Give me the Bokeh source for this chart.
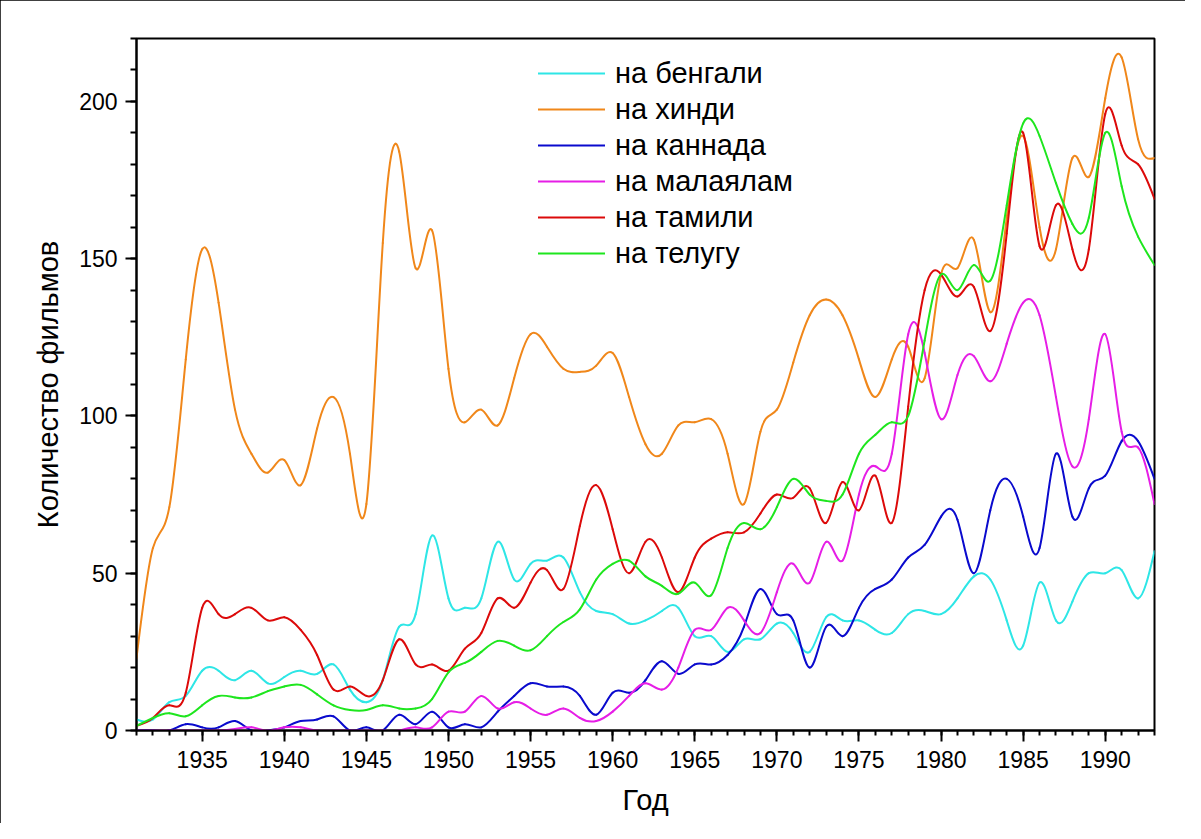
import numpy as np
from bokeh.plotting import figure
from bokeh.models import Range1d, SingleIntervalTicker, Legend, LegendItem, ColumnDataSource
from bokeh.embed import file_html
from bokeh.resources import INLINE

years = list(range(1931, 1994))

bengali = [3.5, 3.5, 9, 11, 19, 19, 16, 19, 15, 17,
           19, 18, 21, 13, 9, 16, 33, 37, 62, 42,
           39, 42, 60, 48, 53, 54, 55, 44, 38, 37,
           34, 35, 38, 39, 30, 30, 25, 29, 29, 34,
           31, 25, 36, 35, 35, 32, 31, 37, 38, 37,
           42, 49, 48, 35, 27, 47, 35, 41, 50, 50,
           51, 42, 57]
hindi = [23, 58, 71, 118, 153, 136, 102, 88, 82, 86,
         78, 96, 106, 88, 72, 155, 184, 147, 159, 115,
         98, 102, 97, 112, 126, 122, 115, 114, 116, 120,
         106, 91, 88, 97, 98, 99, 88, 72, 95, 102,
         117, 132, 137, 132, 118, 106, 118, 122, 112, 145,
         147, 156, 133, 163, 189, 160, 153, 182, 176, 201,
         214, 188, 182]
kannada = [0, 0, 0, 2, 1, 1, 3, 0, 0, 1,
           3, 3.5, 4.5, 0, 1, 0, 5, 2, 6, 1,
           2, 1, 6, 11, 15, 14, 14, 11, 5, 12,
           12, 16, 22, 18, 21, 21, 24, 33, 45, 37,
           35, 20, 33, 30, 39, 45, 48, 55, 59, 68,
           67, 50, 70, 80, 68, 58, 88, 68, 77, 81,
           92, 92, 80]
malayalam = [0, 0, 0, 0, 0, 0, 0.5, 1, 0, 1,
             1, 0, 0, 0, 0, 0, 0, 1, 1, 6,
             6, 11, 7, 9, 7, 5, 7, 4, 3, 6,
             11, 15, 13, 20, 32, 32, 39, 35, 31, 44,
             53, 47, 60, 54, 75, 84, 88, 126, 120, 99,
             113, 119, 111, 123, 136, 132, 106, 84, 99, 126,
             95, 90, 72]
tamil = [1.5, 4, 8, 12, 39, 37, 37, 39, 35, 36,
         32, 24, 13, 14, 11, 16, 29, 21, 21, 19,
         26, 31, 42, 39, 47, 51, 45, 65, 78, 64,
         50, 60, 55, 44, 55, 61, 63, 63, 69, 75,
         74, 77, 66, 79, 70, 81, 66, 103, 140, 145,
         138, 141, 127, 158, 190, 154, 167, 153, 153, 196,
         186, 180, 169]
telugu = [1.5, 4, 5.5, 4.5, 8, 11, 10.5, 10.5, 12.5, 14,
          14.5, 11.5, 8, 6.5, 6.5, 8, 7, 7, 10, 18.5,
          21.5, 25, 28.5, 27, 25.5, 30, 34.5, 38.5, 48, 53,
          54, 49, 46, 43.5, 47, 43, 58, 66, 64, 71,
          80, 75, 73, 75, 88, 94, 98, 100, 124, 145,
          140, 148, 143, 167, 193, 189, 174, 161, 163, 190,
          173, 157, 148]

series_names = ["на бенгали", "на хинди", "на каннада", "на малаялам", "на тамили", "на телугу"]
series_values = [bengali, hindi, kannada, malayalam, tamil, telugu]
colors = ["#2EE6E6", "#F0871A", "#0A0ACD", "#E61EE6", "#DC0A0A", "#1EE61E"]
x_label = "Год"
y_label = "Количество фильмов"
FONT = "Liberation Sans"


def spline_segments(x, y):
    """Natural cubic spline through the data, expressed as cubic Bezier segments."""
    x = np.asarray(x, float)
    y = np.asarray(y, float)
    n = len(x)
    h = np.diff(x)
    A = np.zeros((n, n))
    r = np.zeros(n)
    A[0, 0] = 1.0
    A[-1, -1] = 1.0
    for i in range(1, n - 1):
        A[i, i - 1] = h[i - 1]
        A[i, i] = 2 * (h[i - 1] + h[i])
        A[i, i + 1] = h[i]
        r[i] = 6 * ((y[i + 1] - y[i]) / h[i] - (y[i] - y[i - 1]) / h[i - 1])
    M = np.linalg.solve(A, r)
    d = (y[1:] - y[:-1]) / h
    s = d - h * (2 * M[:-1] + M[1:]) / 6
    e = d + h * (M[:-1] + 2 * M[1:]) / 6
    return dict(x0=x[:-1], y0=y[:-1], x1=x[1:], y1=y[1:],
                cx0=x[:-1] + h / 3, cy0=y[:-1] + s * h / 3,
                cx1=x[1:] - h / 3, cy1=y[1:] - e * h / 3)


p = figure(width=1185, height=823,
           x_range=Range1d(1931, 1993), y_range=Range1d(0, 220),
           output_backend="svg", toolbar_location=None,
           min_border_left=136, min_border_right=31,
           min_border_top=38, min_border_bottom=93)
p.styles = {"outline": "2px solid black", "outline-offset": "-2px"}

p.xgrid.visible = False
p.ygrid.visible = False
p.outline_line_color = "black"
p.outline_line_width = 2
p.background_fill_color = "white"
p.border_fill_color = "white"

p.xaxis.ticker = SingleIntervalTicker(interval=5, num_minor_ticks=5)
p.yaxis.ticker = SingleIntervalTicker(interval=50, num_minor_ticks=5)

for ax in (p.xaxis[0], p.yaxis[0]):
    ax.axis_line_color = "black"
    ax.axis_line_width = 2
    ax.major_tick_line_color = "black"
    ax.minor_tick_line_color = "black"
    ax.major_tick_line_width = 2
    ax.minor_tick_line_width = 2
    ax.major_tick_in = 0
    ax.minor_tick_in = 0
    ax.major_tick_out = 11
    ax.major_label_text_font = FONT
    ax.major_label_text_font_size = "23px"
    ax.major_label_text_color = "black"
    ax.axis_label_text_font = FONT
    ax.axis_label_text_font_size = "29px"
    ax.axis_label_text_font_style = "normal"
    ax.axis_label_text_color = "black"

p.xaxis.minor_tick_out = 5
p.yaxis.minor_tick_out = 6
p.xaxis.major_label_standoff = 9
p.yaxis.major_label_standoff = 8
p.xaxis.axis_label = x_label
p.yaxis.axis_label = y_label
p.xaxis.axis_label_standoff = 13
p.yaxis.axis_label_standoff = 12

items = []
for name, vals, col in zip(series_names, series_values, colors):
    src = ColumnDataSource(spline_segments(years, vals))
    r = p.bezier(x0="x0", y0="y0", x1="x1", y1="y1", cx0="cx0", cy0="cy0",
                 cx1="cx1", cy1="cy1", source=src, line_color=col,
                 line_width=2, line_cap="round")
    items.append(LegendItem(label=name, renderers=[r]))

legend = Legend(items=items, location=(402, 459), glyph_width=67, glyph_height=36,
                label_height=36, label_standoff=10, spacing=0, padding=0, margin=0,
                border_line_alpha=0, background_fill_alpha=0,
                label_text_font=FONT, label_text_font_size="29px",
                label_text_color="black")
p.add_layout(legend)

open("out.html", "w").write(file_html(p, INLINE))
